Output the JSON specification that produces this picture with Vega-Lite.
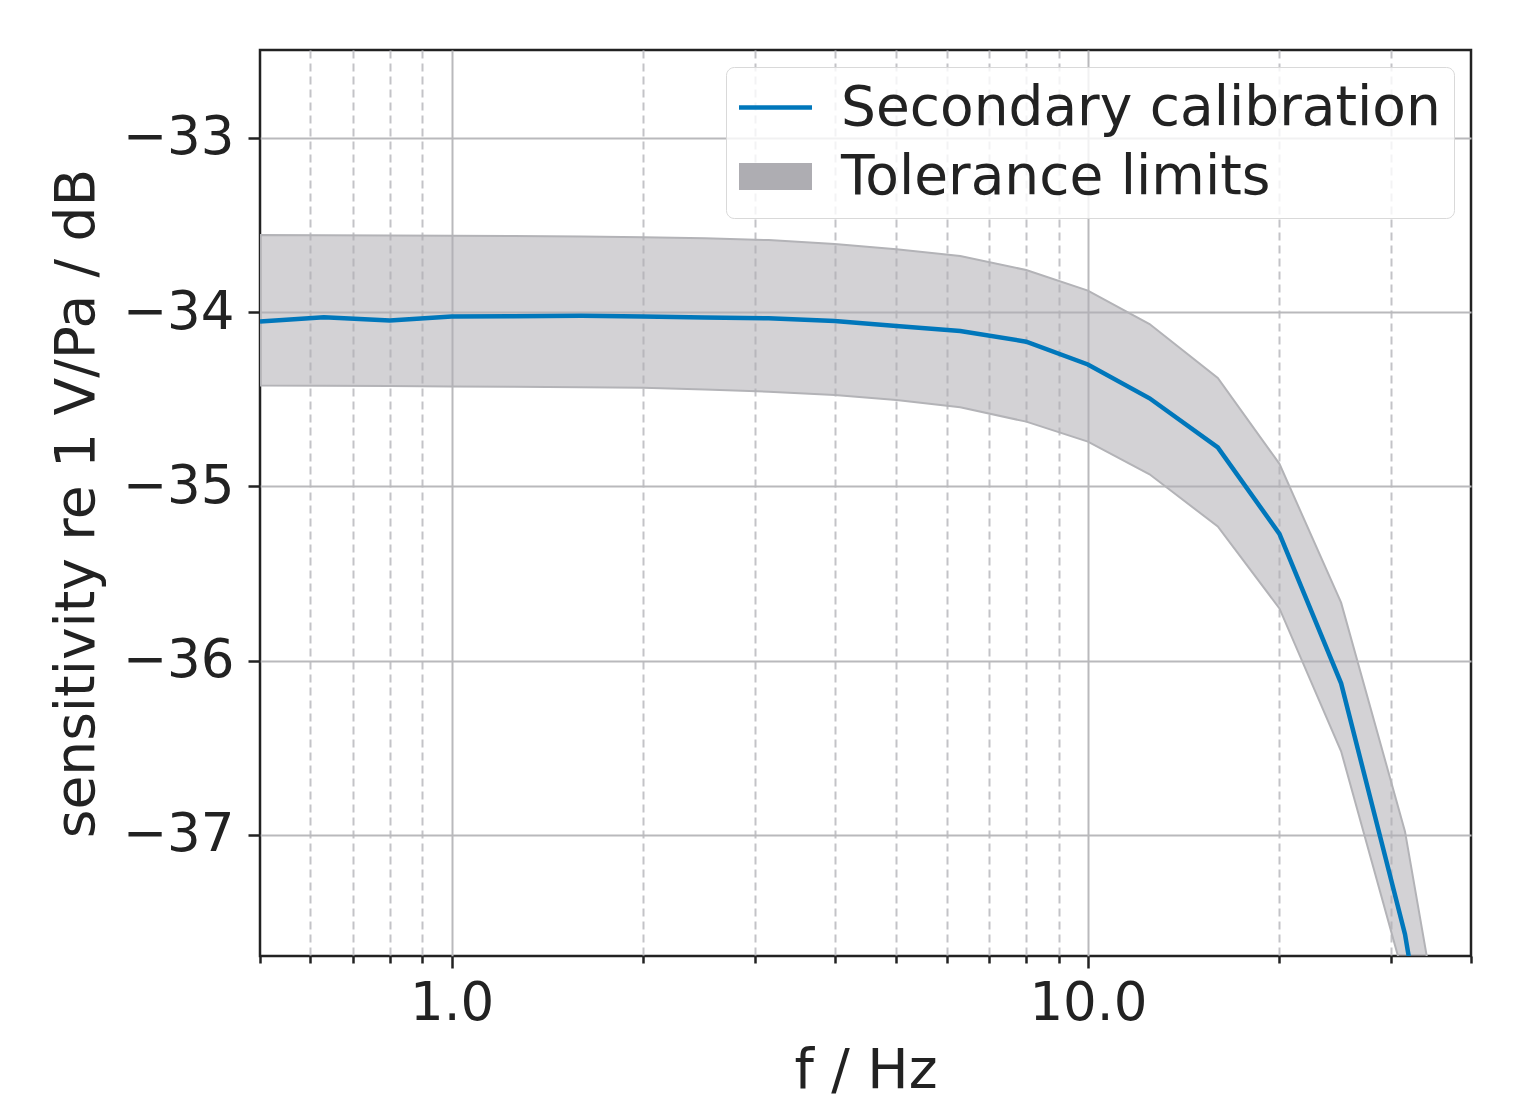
{
  "$schema": "https://vega.github.io/schema/vega-lite/v6.json",
  "autosize": "none",
  "width": 1211,
  "height": 906,
  "padding": {"left": 260, "top": 50, "right": 56, "bottom": 141},
  "background": "white",
  "data": {
    "values": [
      {"f": 0.5, "s": -34.054, "lo": -34.421, "hi": -33.557},
      {"f": 0.63, "s": -34.029, "lo": -34.422, "hi": -33.558},
      {"f": 0.8, "s": -34.048, "lo": -34.424, "hi": -33.559},
      {"f": 1.0, "s": -34.025, "lo": -34.426, "hi": -33.561},
      {"f": 1.25, "s": -34.023, "lo": -34.428, "hi": -33.563},
      {"f": 1.6, "s": -34.02, "lo": -34.43, "hi": -33.566},
      {"f": 2.0, "s": -34.025, "lo": -34.434, "hi": -33.57},
      {"f": 2.5, "s": -34.03, "lo": -34.443, "hi": -33.576},
      {"f": 3.15, "s": -34.035, "lo": -34.456, "hi": -33.586},
      {"f": 4.0, "s": -34.05, "lo": -34.475, "hi": -33.608},
      {"f": 5.0, "s": -34.079, "lo": -34.504, "hi": -33.639},
      {"f": 6.3, "s": -34.108, "lo": -34.546, "hi": -33.677},
      {"f": 8.0, "s": -34.169, "lo": -34.628, "hi": -33.758},
      {"f": 10.0, "s": -34.3, "lo": -34.743, "hi": -33.876},
      {"f": 12.5, "s": -34.494, "lo": -34.93, "hi": -34.068},
      {"f": 16.0, "s": -34.776, "lo": -35.23, "hi": -34.377},
      {"f": 20.0, "s": -35.272, "lo": -35.7, "hi": -34.87},
      {"f": 25.0, "s": -36.13, "lo": -36.52, "hi": -35.667},
      {"f": 31.5, "s": -37.57, "lo": -37.84, "hi": -36.98},
      {"f": 40.0, "s": -39.8, "lo": -40.01, "hi": -39.15}
    ]
  },
  "encoding": {
    "x": {
      "field": "f",
      "type": "quantitative",
      "scale": {"type": "log", "domain": [0.5, 40], "nice": false},
      "axis": {
        "title": "f / Hz",
        "values": [0.5, 0.6, 0.7, 0.8, 0.9, 1, 2, 3, 4, 5, 6, 7, 8, 9, 10, 20, 30, 40],
        "labelExpr": "datum.value == 1 ? '1.0' : (datum.value == 10 ? '10.0' : '')",
        "labelOverlap": false,
        "labelFlush": false,
        "labelPadding": 9,
        "titlePadding": 14,
        "tickSize": {"condition": {"test": "datum.value == 1 || datum.value == 10", "value": 12}, "value": 7},
        "gridDash": {"condition": {"test": "datum.value == 1 || datum.value == 10", "value": []}, "value": [8, 5]},
        "gridColor": {"condition": {"test": "datum.value == 1 || datum.value == 10", "value": "#b9b9bc"}, "value": "#c3c3c7"},
        "gridOpacity": {"condition": {"test": "datum.value < 0.55 || datum.value > 35", "value": 0}, "value": 1}
      }
    }
  },
  "layer": [
    {
      "mark": {"type": "area", "clip": true, "fillOpacity": 0.55, "stroke": "#b3b3b7", "strokeWidth": 2},
      "encoding": {
        "y": {
          "field": "lo",
          "type": "quantitative",
          "scale": {"domain": [-37.695, -32.495], "nice": false, "zero": false},
          "axis": {
            "title": "sensitivity re 1 V/Pa / dB",
            "values": [-37, -36, -35, -34, -33],
            "format": "d",
            "tickSize": 12,
            "labelPadding": 14,
            "titlePadding": 17,
            "gridColor": "#b9b9bc"
          }
        },
        "y2": {"field": "hi"},
        "color": {
          "datum": "Tolerance limits",
          "type": "nominal",
          "scale": {"domain": ["Secondary calibration", "Tolerance limits"], "range": ["#0077bb", "#aeadb2"]},
          "legend": {
            "orient": "top-right",
            "offset": 17,
            "title": null,
            "padding": 13,
            "symbolOffset": 9,
            "labelOffset": 38,
            "rowPadding": 13,
            "symbolSize": 5329,
            "labelFont": "DejaVu Sans",
            "labelFontSize": 55,
            "labelColor": "#222222",
            "labelLimit": 0,
            "labelExpr": "datum.label + '\u2009'",
            "fillColor": "rgba(255,255,255,0.8)",
            "strokeColor": "#d9d9d9",
            "cornerRadius": 8,
            "encode": {
              "symbols": {
                "update": {
                  "shape": {"signal": "datum.value === 'Secondary calibration' ? 'M-1,0H1' : 'M-1,-0.37H1V0.37H-1Z'"},
                  "fill": {"signal": "datum.value === 'Secondary calibration' ? 'transparent' : '#aeadb2'"},
                  "stroke": {"signal": "datum.value === 'Secondary calibration' ? '#0077bb' : 'transparent'"},
                  "strokeWidth": {"signal": "datum.value === 'Secondary calibration' ? 4.5 : 0"},
                  "opacity": {"value": 1},
                  "fillOpacity": {"value": 1},
                  "strokeOpacity": {"value": 1}
                }
              }
            }
          }
        }
      }
    },
    {
      "mark": {"type": "line", "clip": true, "strokeWidth": 4.5},
      "encoding": {
        "y": {"field": "s", "type": "quantitative"},
        "color": {
          "datum": "Secondary calibration",
          "type": "nominal",
          "legend": {
            "orient": "top-right",
            "offset": 17,
            "title": null,
            "padding": 13,
            "symbolOffset": 9,
            "labelOffset": 38,
            "rowPadding": 13,
            "symbolSize": 5329,
            "labelFont": "DejaVu Sans",
            "labelFontSize": 55,
            "labelColor": "#222222",
            "labelLimit": 0,
            "labelExpr": "datum.label + '\u2009'",
            "fillColor": "rgba(255,255,255,0.8)",
            "strokeColor": "#d9d9d9",
            "cornerRadius": 8,
            "encode": {
              "symbols": {
                "update": {
                  "shape": {"signal": "datum.value === 'Secondary calibration' ? 'M-1,0H1' : 'M-1,-0.37H1V0.37H-1Z'"},
                  "fill": {"signal": "datum.value === 'Secondary calibration' ? 'transparent' : '#aeadb2'"},
                  "stroke": {"signal": "datum.value === 'Secondary calibration' ? '#0077bb' : 'transparent'"},
                  "strokeWidth": {"signal": "datum.value === 'Secondary calibration' ? 4.5 : 0"},
                  "opacity": {"value": 1},
                  "fillOpacity": {"value": 1},
                  "strokeOpacity": {"value": 1}
                }
              }
            }
          }
        }
      }
    }
  ],
  "config": {
    "view": {"stroke": "#222222", "strokeWidth": 2.5},
    "axis": {
      "domain": false,
      "grid": true,
      "gridWidth": 2,
      "tickColor": "#222222",
      "tickWidth": 2.5,
      "labelFont": "DejaVu Sans",
      "labelFontSize": 53,
      "labelColor": "#222222",
      "titleFont": "DejaVu Sans",
      "titleFontSize": 55,
      "titleFontWeight": "normal",
      "titleColor": "#222222"
    }
  }
}
